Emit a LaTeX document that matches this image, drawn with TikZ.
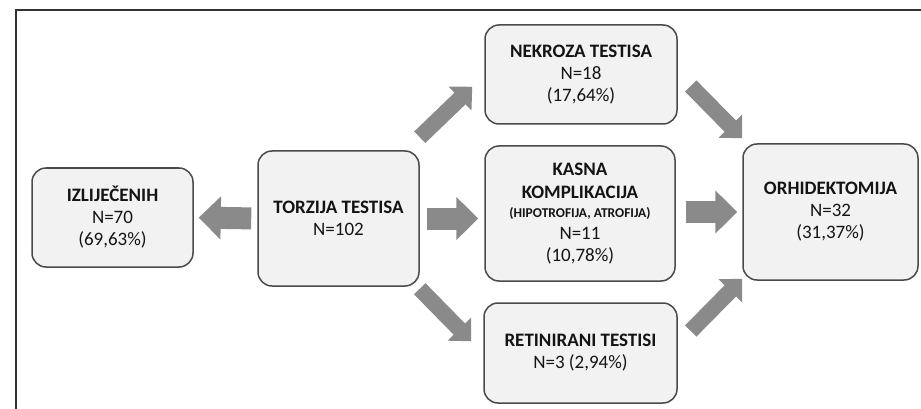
\documentclass[tikz,border=0pt]{standalone}
\usepackage{fontspec}
\setmainfont{Carlito}
\usetikzlibrary{arrows.meta,calc}
\definecolor{boxfill}{HTML}{F2F2F2}
\definecolor{boxline}{HTML}{4A4A4A}
\definecolor{arrowgray}{HTML}{8A8A8A}
\definecolor{framegray}{HTML}{333333}
\definecolor{txt}{HTML}{141414}
\begin{document}
\begin{tikzpicture}[x=1pt,y=-1pt,
  box/.style={draw=boxline, fill=boxfill, line width=1.5pt, rounded corners=14pt,
    inner sep=0pt, align=center, text=txt, font=\fontsize{19}{22}\selectfont},
  harrow/.style={draw=arrowgray, line width=22pt, -{Triangle[length=22pt,width=42pt]}},
  darrow/.style={draw=arrowgray, line width=16pt, -{Triangle[length=17pt,width=32pt]}}]
\useasboundingbox (0,0) rectangle (921,409);
\draw[framegray, line width=1.3pt] (16,409) -- (16,10) -- (921,10);

\node[box, minimum width=161pt, minimum height=99pt] (izl) at (112.5,217.5)
  {\textbf{IZLIJEČENIH}\\N=70\\(69,63\%)};
\node[box, minimum width=161pt, minimum height=135pt] (torz) at (338.5,218.5)
  {\textbf{TORZIJA TESTISA}\\N=102};
\node[box, minimum width=192pt, minimum height=99pt] (nek) at (581,74.5)
  {\textbf{NEKROZA TESTISA}\\N=18\\(17,64\%)};
\node[box, minimum width=190pt, minimum height=135pt] (kasna) at (580,213.5)
  {\textbf{KASNA}\\[1pt]\textbf{KOMPLIKACIJA}\\[-3pt]{\fontsize{13.5}{15}\selectfont\bfseries (HIPOTROFIJA, ATROFIJA)}\\N=11\\(10,78\%)};
\node[box, minimum width=193pt, minimum height=100pt] (ret) at (580.5,353)
  {\textbf{RETINIRANI TESTISI}\\N=3 (2,94\%)};
\node[box, minimum width=175pt, minimum height=136pt] (orh) at (830.5,212)
  {\textbf{ORHIDEKTOMIJA}\\N=32\\(31,37\%)};

\draw[harrow, shorten <=6pt, shorten >=5pt] (torz.west) -- (izl.east);
\draw[harrow, shorten <=7pt, shorten >=6pt] (torz.east) -- (torz.east -| kasna.west);
\draw[harrow, shorten <=10pt, shorten >=5pt] (kasna.east |- orh.west) -- (orh.west);

\coordinate (t1) at ($(torz.north east)+(0,-13)$);
\coordinate (h1) at ($(nek.south west)+(-12,-38)$);
\coordinate (t2) at ($(torz.south east)+(0,2)$);
\coordinate (h2) at ($(ret.north west)+(-12,39)$);
\coordinate (t3) at ($(nek.east)+(13,11.5)$);
\coordinate (h3) at ($(orh.north west)+(0,-5)$);
\coordinate (t4) at ($(ret.east)+(13,-22)$);
\coordinate (h4) at ($(orh.south west)+(0,-2)$);
\draw[darrow] (t1) -- (h1);
\draw[darrow] (t2) -- (h2);
\draw[darrow] (t3) -- (h3);
\draw[darrow] (t4) -- (h4);
\end{tikzpicture}
\end{document}
